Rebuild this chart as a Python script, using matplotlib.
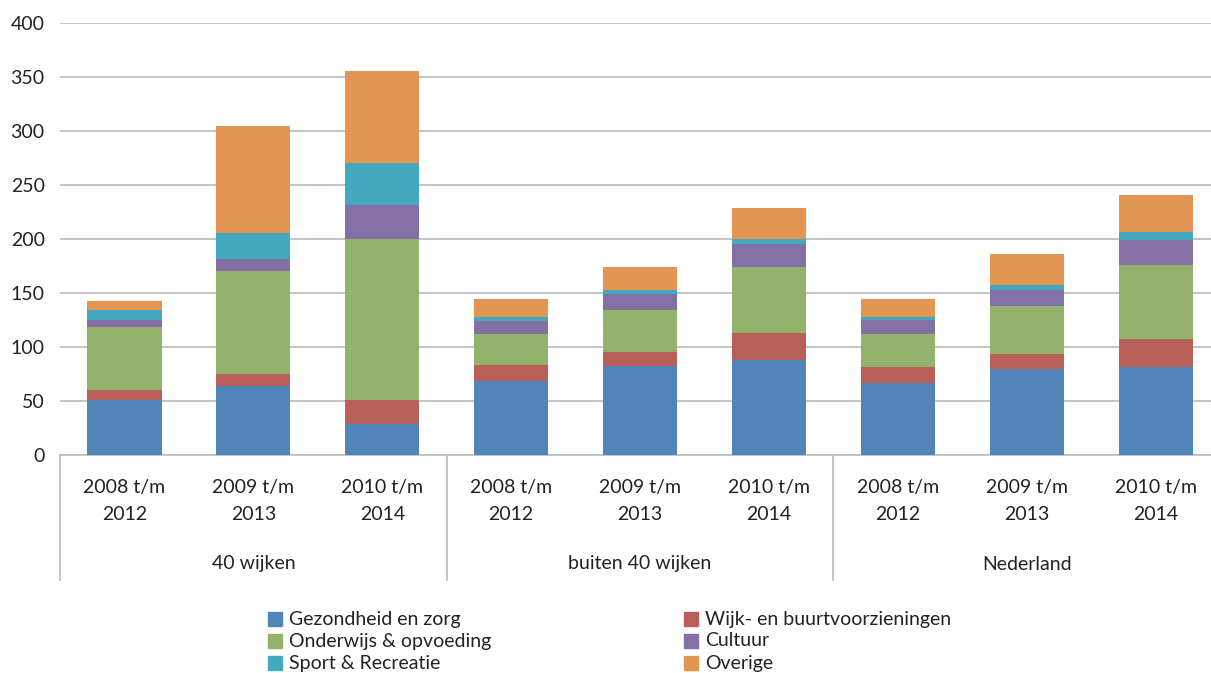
import matplotlib
matplotlib.use("Agg")
import matplotlib.pyplot as plt
import numpy as np
from matplotlib.transforms import blended_transform_factory
from matplotlib.patches import Rectangle
from matplotlib.lines import Line2D

plt.rcParams['font.family'] = ['Lato', 'DejaVu Sans']

periods = ["2008 t/m\n2012", "2009 t/m\n2013", "2010 t/m\n2014"] * 3
groups = ["40 wijken", "buiten 40 wijken", "Nederland"]
series_names = ["Gezondheid en zorg", "Wijk- en buurtvoorzieningen", "Onderwijs & opvoeding",
                "Cultuur", "Sport & Recreatie", "Overige"]
gezondheid = [51, 64, 29, 68.5, 82.5, 88, 66.5, 79.5, 81.5]
wijk = [9, 11, 22, 15, 13, 25, 15, 14, 26]
onderwijs = [58.5, 95.5, 149, 28.5, 39, 61, 30.5, 44.5, 68.5]
cultuur = [6.5, 11, 31.5, 12, 14.5, 21.5, 13, 15, 23]
sport = [9, 24, 39, 4, 4, 4.5, 3, 4.5, 7.5]
overige = [8.5, 99, 85, 16.5, 21, 29, 16.5, 28.5, 34]
colors = ["#5185BA", "#B85F5A", "#93B26B", "#8370A5", "#44A9BF", "#E39554"]
yticks = [0, 50, 100, 150, 200, 250, 300, 350, 400]

W, H = 1211, 673
fig = plt.figure(figsize=(W / 100, H / 100), dpi=100)
ax = fig.add_axes([60 / W, 1 - 455 / H, 1160 / W, 432 / H])

series = [gezondheid, wijk, onderwijs, cultuur, sport, overige]
x = np.arange(len(periods))
bottom = np.zeros(len(periods))
for vals, c in zip(series, colors):
    ax.bar(x, vals, 0.575, bottom=bottom, color=c, zorder=3)
    bottom += np.array(vals)

ax.set_xlim(-0.5, len(periods) - 0.5)
ax.set_ylim(0, 400)
ax.set_yticks(yticks)
ax.set_yticklabels([str(v) for v in yticks], fontsize=14, color="#222222")
ax.tick_params(axis='y', length=0, pad=11)
ax.set_xticks([])
ax.grid(axis='y', color="#BFBFBF", linewidth=1.3, zorder=0)
for s in ["top", "right", "left"]:
    ax.spines[s].set_visible(False)
ax.spines["bottom"].set_color("#BFBFBF")
ax.spines["bottom"].set_linewidth(1.3)

tr = blended_transform_factory(ax.transData, fig.transFigure)
for i, lab in enumerate(periods):
    l1, l2 = lab.split("\n")
    ax.text(i, 1 - 487 / H, l1, transform=tr, ha='center', va='center', fontsize=14, color="#222222")
    ax.text(i, 1 - 515 / H, l2, transform=tr, ha='center', va='center', fontsize=14, color="#222222")
for g, name in enumerate(groups):
    ax.text(g * 3 + 1, 1 - 564 / H, name, transform=tr, ha='center', va='center', fontsize=14, color="#222222")
for sx in [-0.5, 2.5, 5.5, 8.5]:
    ax.add_line(Line2D([sx, sx], [1 - 455 / H, 1 - 580 / H], transform=tr, color="#BFBFBF",
                       linewidth=1.3, clip_on=False))

# legend (row-major, two columns)
col_x = [268, 684]
row_y = [619, 641, 663]
for k, (name, c) in enumerate(zip(series_names, colors)):
    r, cidx = divmod(k, 2)
    sx = col_x[cidx]
    sy = row_y[r]
    fig.patches.append(Rectangle((sx / W, 1 - (sy + 7) / H), 14 / W, 14 / H,
                                 transform=fig.transFigure, color=c, figure=fig))
    fig.text((sx + 21) / W, 1 - sy / H, name, ha='left', va='center', fontsize=14, color="#222222")

fig.savefig("out.png", dpi=100)
